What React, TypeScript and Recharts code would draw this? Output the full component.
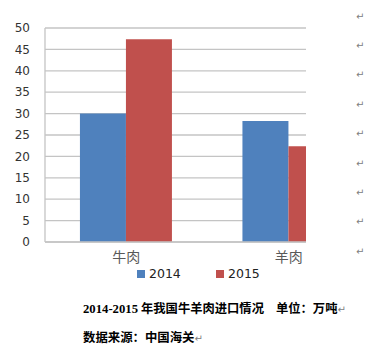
import React from 'react';
import { BarChart, Bar, XAxis, YAxis, CartesianGrid, Legend } from 'recharts';

const categories = ['牛肉', '羊肉'];
const values2014 = [30.0, 28.3];
const values2015 = [47.4, 22.4];
const seriesNames = ['2014', '2015'];
const yTicks = [0, 5, 10, 15, 20, 25, 30, 35, 40, 45, 50];
const captionYear = '2014-2015';
const captionTitle = '年我国牛羊肉进口情况';
const captionUnit = '单位：万吨';
const captionSource = '数据来源：中国海关';

const data = categories.map((name, i) => ({ name, s2014: values2014[i], s2015: values2015[i] }));

const BLUE = '#4F81BD';
const RED = '#C0504D';
const GRID = '#C4C4C4';
const MARK_YS = [15, 43.5, 73, 103, 132, 162, 191, 220, 250];

const Mark = ({ style }: { style?: React.CSSProperties }) => (
  <span style={{ fontFamily: 'DejaVu Sans', fontSize: 10, color: '#808080', fontWeight: 'normal', ...style }}>↵</span>
);

const LegendContent = () => (
  <div style={{ position: 'relative', width: 392, height: 14, fontFamily: 'DejaVu Sans', fontSize: 12.5, color: '#222' }}>
    <div style={{ position: 'absolute', left: 137, top: 3, width: 8, height: 8, background: BLUE }} />
    <div style={{ position: 'absolute', left: 149, top: -1, lineHeight: '15px' }}>{seriesNames[0]}</div>
    <div style={{ position: 'absolute', left: 216, top: 3, width: 8, height: 8, background: RED }} />
    <div style={{ position: 'absolute', left: 228, top: -1, lineHeight: '15px' }}>{seriesNames[1]}</div>
  </div>
);

export default function App() {
  return (
    <div style={{ position: 'absolute', left: 0, top: 0, width: 392, height: 352, background: '#fff' }}>
      <div style={{ position: 'absolute', left: 0, top: 0, width: 306, height: 290, overflow: 'hidden' }}>
        <BarChart
          width={392}
          height={290}
          data={data}
          margin={{ top: 28, right: 22, left: 0, bottom: 9 }}
          barCategoryGap="21.5%"
          barGap={0}
        >
          <CartesianGrid vertical={false} stroke={GRID} strokeWidth={1.3} />
          <XAxis
            dataKey="name"
            height={25}
            tickLine={false}
            axisLine={{ stroke: GRID, strokeWidth: 1.3 }}
            tickSize={0}
            tickMargin={10}
            tick={{ fontSize: 14, fill: '#595959', fontFamily: 'Noto Sans CJK SC' }}
          />
          <YAxis
            width={45}
            domain={[0, 50]}
            ticks={yTicks}
            interval={0}
            tickLine={false}
            axisLine={{ stroke: GRID, strokeWidth: 1.3 }}
            tickSize={0}
            tickMargin={15}
            tick={{ fontSize: 12, fill: '#333', fontFamily: 'DejaVu Sans' }}
          />
          <Legend verticalAlign="bottom" height={14} wrapperStyle={{ left: 0, width: 392 }} content={<LegendContent />} />
          <Bar dataKey="s2014" name={seriesNames[0]} fill={BLUE} isAnimationActive={false} />
          <Bar dataKey="s2015" name={seriesNames[1]} fill={RED} isAnimationActive={false} />
        </BarChart>
      </div>
      {MARK_YS.map((y) => (
        <div key={y} style={{ position: 'absolute', left: 356, top: y - 7, lineHeight: '14px' }}>
          <Mark />
        </div>
      ))}
      <div style={{ position: 'absolute', left: 83, top: 300, whiteSpace: 'nowrap', lineHeight: '16px', fontWeight: 'bold', color: '#000' }}>
        <span style={{ fontFamily: 'Liberation Serif', fontSize: 12.7 }}>{captionYear}</span>
        <span style={{ fontFamily: 'Noto Sans CJK SC', fontSize: 12.3, marginLeft: 3 }}>{captionTitle}</span>
        <span style={{ fontFamily: 'Noto Sans CJK SC', fontSize: 12.3, marginLeft: 12 }}>{captionUnit}</span>
        <Mark />
      </div>
      <div style={{ position: 'absolute', left: 83, top: 329, whiteSpace: 'nowrap', lineHeight: '16px', fontWeight: 'bold', color: '#000' }}>
        <span style={{ fontFamily: 'Noto Sans CJK SC', fontSize: 12.4 }}>{captionSource}</span>
        <Mark />
      </div>
    </div>
  );
}
